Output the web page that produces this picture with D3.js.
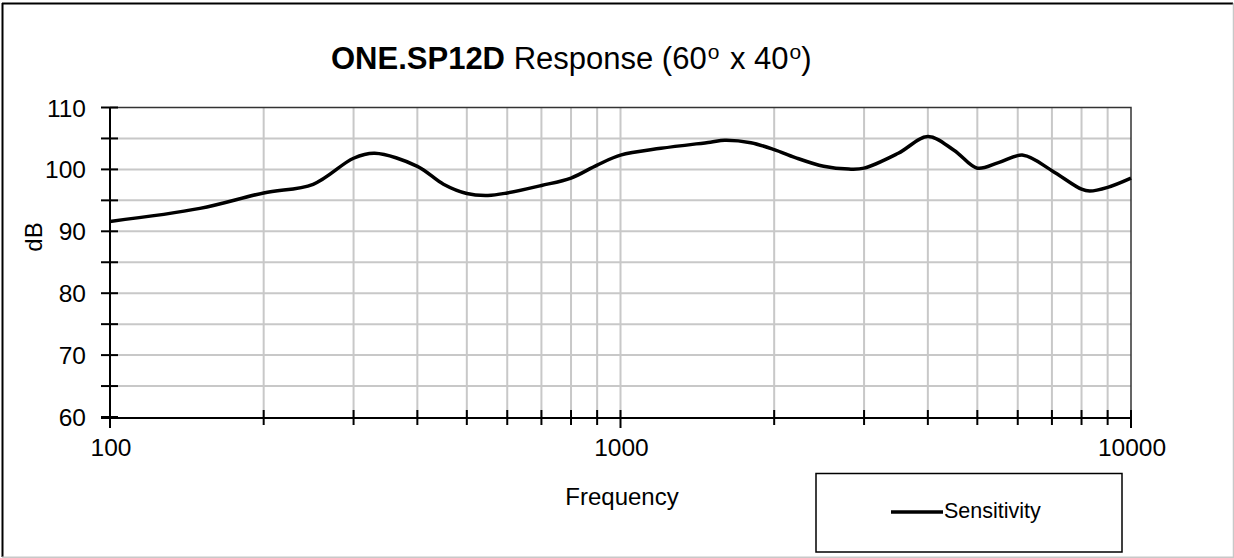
<!DOCTYPE html>
<html>
<head>
<meta charset="utf-8">
<script src="https://cdn.jsdelivr.net/npm/d3@7"></script>
<style>
  body { margin: 0; background: #fff; }
  text { font-family: "Liberation Sans", Arial, sans-serif; fill: #000; }
</style>
</head>
<body>
<svg id="chart" width="1234" height="558"></svg>
<script>
// frequency response
const freqs = [100, 150, 200, 250, 300, 330, 400, 450, 500, 550, 600, 700, 800, 900, 1000, 1200, 1500, 1600, 1800, 2000, 2200, 2500, 2800, 3000, 3500, 4000, 4500, 5000, 5500, 6150, 7000, 8000, 8300, 9000, 10000];
const sensitivity = [91.6, 93.7, 96.2, 97.6, 101.8, 102.6, 100.5, 97.6, 96.1, 95.8, 96.2, 97.4, 98.6, 100.7, 102.3, 103.4, 104.4, 104.7, 104.3, 103.2, 101.9, 100.5, 100.05, 100.2, 102.6, 105.3, 103.1, 100.2, 101.1, 102.3, 99.8, 96.8, 96.5, 97.1, 98.6];
const yTicks = [60, 70, 80, 90, 100, 110];
const xTickLabels = [100, 1000, 10000];

const svg = d3.select("#chart");

const x = d3.scaleLog().domain([100, 10000]).range([110, 1131]);
const y = d3.scaleLinear().domain([60, 110]).range([417, 107.5]);

// outer frame
svg.append("line").attr("x1", 2).attr("x2", 1233).attr("y1", 3.5).attr("y2", 3.5).attr("stroke", "#000").attr("stroke-width", 2);
svg.append("line").attr("x1", 2.5).attr("x2", 2.5).attr("y1", 3).attr("y2", 557).attr("stroke", "#000").attr("stroke-width", 2);
svg.append("line").attr("x1", 1233.5).attr("x2", 1233.5).attr("y1", 3).attr("y2", 558).attr("stroke", "#c8c8c8").attr("stroke-width", 1.5);
svg.append("line").attr("x1", 2).attr("x2", 1234).attr("y1", 557.2).attr("y2", 557.2).attr("stroke", "#c8c8c8").attr("stroke-width", 1.5);

// grid
const minorFreqs = x.ticks();
const grid = svg.append("g").attr("stroke", "#c8c8c8").attr("stroke-width", 2);
grid.selectAll("line.v").data(minorFreqs.filter(f => f > 100 && f < 10000)).join("line")
    .attr("x1", d => x(d)).attr("x2", d => x(d))
    .attr("y1", y(110)).attr("y2", y(60));
grid.selectAll("line.h").data(d3.range(65, 110, 5)).join("line")
    .attr("x1", x(100)).attr("x2", x(10000))
    .attr("y1", d => y(d)).attr("y2", d => y(d));

// plot border top/right
svg.append("path")
    .attr("d", `M${x(100)},${y(110)}H${x(10000)}V${y(60)}`)
    .attr("fill", "none").attr("stroke", "#333").attr("stroke-width", 1.5);

// y axis
const yAxis = svg.append("g");
yAxis.append("line").attr("x1", x(100)).attr("x2", x(100)).attr("y1", y(110)).attr("y2", y(60) + 8)
    .attr("stroke", "#000").attr("stroke-width", 2);
yAxis.selectAll("line.t").data(d3.range(60, 111, 5)).join("line")
    .attr("x1", x(100) - 9).attr("x2", x(100) + 8)
    .attr("y1", d => y(d)).attr("y2", d => y(d))
    .attr("stroke", "#000").attr("stroke-width", 2);
yAxis.selectAll("text").data(yTicks).join("text")
    .attr("x", 86).attr("y", d => y(d) + 9)
    .attr("text-anchor", "end").attr("font-size", 24.5)
    .text(d => d);

// x axis
const xAxis = svg.append("g");
xAxis.append("line").attr("x1", x(100) - 9).attr("x2", x(10000)).attr("y1", y(60) + 1).attr("y2", y(60) + 1)
    .attr("stroke", "#000").attr("stroke-width", 2);
xAxis.selectAll("line.t").data(minorFreqs).join("line")
    .attr("x1", d => x(d)).attr("x2", d => x(d))
    .attr("y1", y(60) - 7)
    .attr("y2", d => xTickLabels.includes(d) ? y(60) + 11 : y(60) + 8)
    .attr("stroke", "#000").attr("stroke-width", 2);
xAxis.selectAll("text").data(xTickLabels).join("text")
    .attr("x", d => x(d) + 1).attr("y", 456)
    .attr("text-anchor", "middle").attr("font-size", 24.5)
    .text(d => d);

// axis titles
svg.append("text").attr("x", 622).attr("y", 505).attr("text-anchor", "middle")
    .attr("font-size", 24).text("Frequency");
svg.append("text").attr("transform", "translate(42,237) rotate(-90)")
    .attr("text-anchor", "middle").attr("font-size", 24).text("dB");

// title
const title = svg.append("text").attr("x", 331).attr("y", 68.6).attr("font-size", 31);
title.append("tspan").attr("font-weight", "bold").text("ONE.SP12D");
title.append("tspan").text(" Response (60");
title.append("tspan").attr("font-size", 21).attr("dx", 1).attr("dy", -10).text("o");
title.append("tspan").attr("dx", 2).attr("dy", 10).text(" x 40");
title.append("tspan").attr("font-size", 21).attr("dx", 1).attr("dy", -10).text("o");
title.append("tspan").attr("dy", 10).text(")");

// curve
const line = d3.line()
    .x((d, i) => x(freqs[i]))
    .y(d => y(d))
    .curve(d3.curveCatmullRom.alpha(0.5));
svg.append("path")
    .datum(sensitivity)
    .attr("d", line)
    .attr("fill", "none")
    .attr("stroke", "#000")
    .attr("stroke-width", 3.5)
    .attr("stroke-linejoin", "round");

// legend
const legend = svg.append("g");
legend.append("rect").attr("x", 816).attr("y", 473.5).attr("width", 306).attr("height", 78.5)
    .attr("fill", "#fff").attr("stroke", "#000").attr("stroke-width", 1.5);
legend.append("line").attr("x1", 891).attr("x2", 943).attr("y1", 512).attr("y2", 512)
    .attr("stroke", "#000").attr("stroke-width", 3.5);
legend.append("text").attr("x", 944).attr("y", 518).attr("font-size", 21.5).text("Sensitivity");
</script>
</body>
</html>
